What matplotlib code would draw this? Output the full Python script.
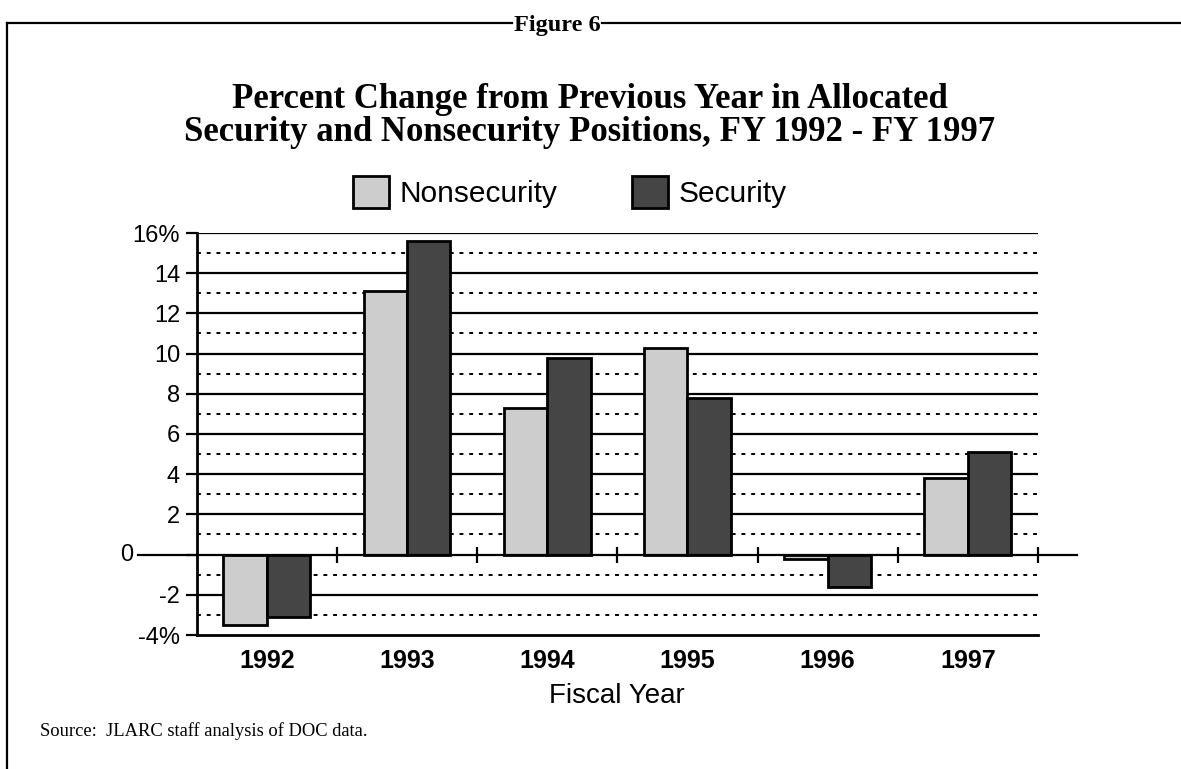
import numpy as np
import matplotlib.pyplot as plt
from matplotlib.lines import Line2D
from matplotlib.patches import Patch
import matplotlib.transforms as mtransforms

# Datos
anios = ['1992', '1993', '1994', '1995', '1996', '1997']
no_seguridad = [-3.5, 13.1, 7.3, 10.3, -0.2, 3.8]
seguridad = [-3.1, 15.6, 9.8, 7.8, -1.6, 5.1]
ticks_y = [-4, -2, 0, 2, 4, 6, 8, 10, 12, 14, 16]
etiquetas_y = ['-4%', '-2', '', '2', '4', '6', '8', '10', '12', '14', '16%']

W, H = 1181, 769
fig = plt.figure(figsize=(W / 100, H / 100), dpi=100)
ax = fig.add_axes([196.7 / W, 1 - 635 / H, (1038 - 196.7) / W, (635 - 233) / H])

x = np.arange(len(anios))
ancho = 0.31
ax.bar(x - ancho / 2, no_seguridad, ancho, color='#cdcdcd', edgecolor='black',
       linewidth=2, zorder=3)
ax.bar(x + ancho / 2, seguridad, ancho, color='#454545', edgecolor='black',
       linewidth=2, zorder=3)

ax.set_xlim(-0.5, len(anios) - 0.5)
ax.set_ylim(-4, 16)

# lineas de la rejilla: continuas en pares, punteadas en impares
for v in range(-2, 17, 2):
    if v != 0:
        ax.axhline(v, color='black', linewidth=1.6, zorder=1)
for v in range(-3, 16, 2):
    ax.axhline(v, color='black', linewidth=1.4, linestyle=(0, (2, 3)), zorder=1)

# linea del cero mas larga que el eje
trans = mtransforms.blended_transform_factory(ax.transAxes, ax.transData)
ax.plot([-0.07, 1.046], [0, 0], color='black', linewidth=1.6, transform=trans,
        clip_on=False, zorder=4)
ax.text(-0.075, 0, '0', transform=trans, fontsize=17, family='Liberation Sans',
        ha='right', va='center')
ax.vlines(x[:-1] + 0.5, -0.4, 0.4, color='black', linewidth=1.6, zorder=4)
ax.vlines([len(anios) - 0.5], -0.4, 0.4, color='black', linewidth=1.6, zorder=4,
          clip_on=False)

for s in ['top', 'right']:
    ax.spines[s].set_visible(False)
ax.spines['left'].set_linewidth(2)
ax.spines['bottom'].set_linewidth(2)

ax.set_yticks(ticks_y)
ax.set_yticklabels(etiquetas_y, fontsize=17, family='Liberation Sans')
ax.tick_params(axis='y', length=8, width=1.6, pad=4)
ax.set_xticks(x)
ax.set_xticklabels(anios, fontsize=18, fontweight='bold', family='Liberation Sans')
ax.tick_params(axis='x', length=0, pad=10)

fig.text(617 / W, 1 - 696 / H, 'Fiscal Year', fontsize=20, family='Liberation Sans',
         ha='center', va='center')

# titulo
fig.text(590 / W, 1 - 116 / H,
         'Percent Change from Previous Year in Allocated\n'
         'Security and Nonsecurity Positions, FY 1992 - FY 1997',
         fontsize=25, fontweight='bold', family='Liberation Serif',
         ha='center', va='center', linespacing=1.0)

# leyenda
handles = [Patch(facecolor='#cdcdcd', edgecolor='black', linewidth=2),
           Patch(facecolor='#454545', edgecolor='black', linewidth=2)]
fig.legend(handles, ['Nonsecurity', 'Security'], loc='center',
           bbox_to_anchor=(570 / W, 1 - 192 / H), ncol=2, frameon=False,
           prop={'family': 'Liberation Sans', 'size': 21.5}, handlelength=1.2,
           handleheight=1.25, handletextpad=0.35, columnspacing=2.5)

# marco de la figura
fig.text(557 / W, 1 - 25 / H, 'Figure 6', fontsize=17.5, fontweight='bold',
         family='Liberation Serif', ha='center', va='center')
fig.add_artist(Line2D([7 / W, 7 / W], [0, 1 - 23 / H], color='black', linewidth=1.6))
fig.add_artist(Line2D([7 / W, 512 / W], [1 - 23 / H, 1 - 23 / H], color='black', linewidth=1.6))
fig.add_artist(Line2D([602 / W, 1], [1 - 23 / H, 1 - 23 / H], color='black', linewidth=1.6))

fig.text(40 / W, 1 - 731 / H, 'Source:  JLARC staff analysis of DOC data.',
         fontsize=13.3, family='Liberation Serif', ha='left', va='center')

plt.savefig('out.png', dpi=100)
plt.close()
